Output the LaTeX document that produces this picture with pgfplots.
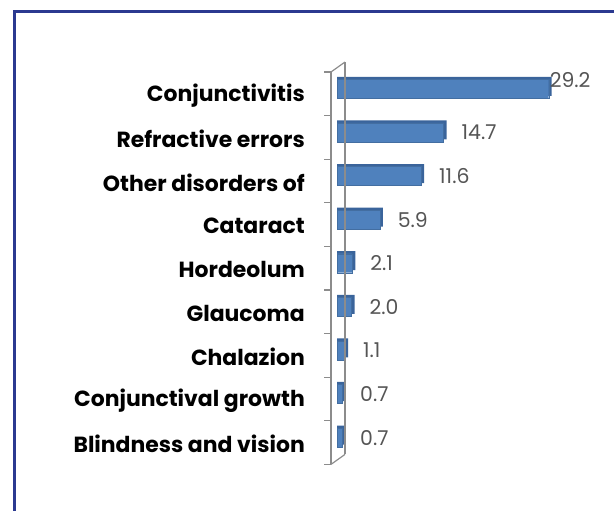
\documentclass[border=0pt]{standalone}
\usepackage{pgfplots}
\usepackage{pgfplotstable}
\pgfplotsset{compat=1.18}
\usepackage{fontspec}
\setmainfont{Poppins}
\definecolor{framecol}{RGB}{43,57,144}
\definecolor{barfront}{RGB}{79,129,189}
\definecolor{barback}{RGB}{58,100,155}
\definecolor{axcol}{RGB}{140,140,140}
\definecolor{valcol}{RGB}{85,85,85}

\pgfplotstableread{
y x xo yo
8 29.2 1 9
7 14.7 18 0
6 11.6 18 0
5 5.9 18 0
4 2.1 18 0
3 2.0 18 0
2 1.1 18 0
1 0.7 18 0
0 0.7 18 0
}\datatab

\begin{document}
\begin{tikzpicture}
\useasboundingbox (0,0) rectangle (614bp,511bp);
\clip (0,0) rectangle (614bp,511bp);
\draw[framecol, line width=3bp] (14.5bp,-10bp) -- (14.5bp,499.5bp) -- (630bp,499.5bp);
\begin{axis}[
  at={(331bp,46.6bp)}, anchor=south west,
  scale only axis,
  width=223.5bp, height=392.4bp,
  xmin=-0.83, xmax=30,
  ymin=-0.5, ymax=8.5,
  axis x line=none,
  axis y line*=left,
  axis line style={axcol, line width=1.2bp},
  ytick={0,...,8},
  yticklabels={Blindness and vision, Conjunctival growth, Chalazion, Glaucoma, Hordeolum, Cataract, Other disorders of, Refractive errors, Conjunctivitis},
  minor ytick={-0.5,0.5,...,8.5},
  tick align=outside,
  major tick length=0pt,
  minor tick length=7bp,
  every tick/.style={axcol, line width=1.2bp},
  yticklabel style={anchor=east, inner sep=0pt, xshift=-26bp, yshift=-1.5bp, font=\fontsize{22}{24}\selectfont\bfseries, text=black},
  xbar, bar width=19bp,
  clip=false,
]
\addplot[fill=barback, draw=none, bar shift=7.5bp] table[x expr=\thisrow{x}+0.42, y=y] {\datatab};
\addplot[fill=barfront, draw=barfront!85!black, line width=0.3bp, bar shift=5bp,
  point meta=x,
  nodes near coords,
  nodes near coords style={/pgf/number format/fixed, /pgf/number format/fixed zerofill, /pgf/number format/precision=1, /pgf/number format/assume math mode=true},
  visualization depends on={\thisrow{xo} \as \xo},
  visualization depends on={\thisrow{yo} \as \yo},
  every node near coord/.append style={anchor=west, inner sep=0pt, xshift=\xo, yshift=\yo, text=valcol, font=\fontsize{20.5}{22}\selectfont},
] table[x=x, y=y] {\datatab};
\draw[axcol, line width=1.2bp] ([shift={(14bp,10bp)}]axis cs:-0.83,-0.5) -- ([shift={(14bp,10bp)}]axis cs:-0.83,8.5);
\draw[axcol, line width=1.2bp] (axis cs:-0.83,8.5) -- ([shift={(14bp,10bp)}]axis cs:-0.83,8.5);
\draw[axcol, line width=1.2bp] (axis cs:-0.83,-0.5) -- ([shift={(14bp,10bp)}]axis cs:-0.83,-0.5);
\end{axis}
\end{tikzpicture}
\end{document}
